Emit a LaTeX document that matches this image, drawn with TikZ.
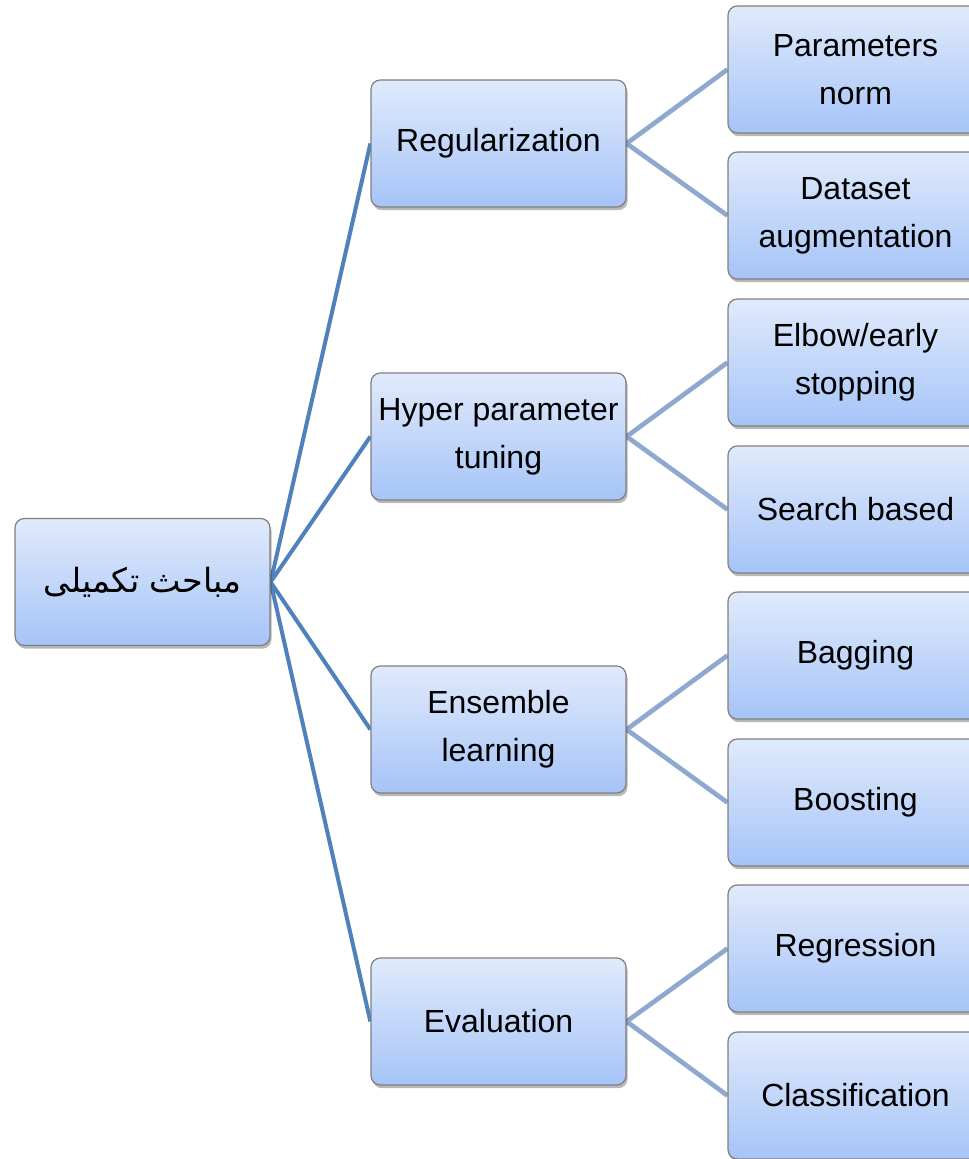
\documentclass[tikz,border=0pt]{standalone}
\usepackage{fontspec}
\setmainfont{Liberation Sans}
\newfontfamily\arabicfont[Script=Arabic]{DejaVu Sans}
\TeXXeTstate=1
\usetikzlibrary{shadows,backgrounds}
\definecolor{topc}{HTML}{E0EAFB}
\definecolor{botc}{HTML}{A6C4F8}
\definecolor{lineA}{HTML}{4F81BD}
\definecolor{lineB}{HTML}{8EA8CF}
\definecolor{bordc}{HTML}{7F7F7F}
\begin{document}
\begin{tikzpicture}[x=0.75pt,y=-0.75pt,
  box/.style={rectangle, rounded corners=7pt, draw=bordc, line width=0.9pt,
    top color=topc, bottom color=botc, minimum width=191.25pt, minimum height=95.25pt,
    align=center, font=\fontsize{24}{36}\selectfont, inner sep=0pt,
    drop shadow={shadow xshift=1.2pt, shadow yshift=-2.4pt, opacity=0.28, fill=black}},
  l1/.style={draw=lineA, line width=3pt},
  l2/.style={draw=lineB, line width=3.5pt}]
\useasboundingbox (0,0) rectangle (969,1159);
\node[box] (root) at (142.5,582) {\fontsize{25}{36}\selectfont\arabicfont\beginR مباحث تکمیلی\endR};
\node[box] (reg) at (498.5,143.5) {Regularization};
\node[box] (hyp) at (498.5,436.5) {Hyper parameter\\tuning};
\node[box] (ens) at (498.5,729.5) {Ensemble\\learning};
\node[box] (eva) at (498.5,1021.5) {Evaluation};
\node[box] (pn) at (855.5,69.5) {Parameters\\norm};
\node[box] (da) at (855.5,215.5) {Dataset\\augmentation};
\node[box] (el) at (855.5,362.5) {Elbow/early\\stopping};
\node[box] (sb) at (855.5,509.5) {Search based};
\node[box] (bag) at (855.5,655.5) {Bagging};
\node[box] (boo) at (855.5,802.5) {Boosting};
\node[box] (rgr) at (855.5,948.5) {Regression};
\node[box] (cla) at (855.5,1095.5) {Classification};
\begin{pgfonlayer}{background}
\fill[white] (0,0) rectangle (969,1159);
\foreach \t in {reg,hyp,ens,eva} \draw[l1] (root.east) -- (\t.west);
\draw[l2] (reg.east) -- (pn.west);
\draw[l2] (reg.east) -- (da.west);
\draw[l2] (hyp.east) -- (el.west);
\draw[l2] (hyp.east) -- (sb.west);
\draw[l2] (ens.east) -- (bag.west);
\draw[l2] (ens.east) -- (boo.west);
\draw[l2] (eva.east) -- (rgr.west);
\draw[l2] (eva.east) -- (cla.west);
\end{pgfonlayer}
\end{tikzpicture}
\end{document}
